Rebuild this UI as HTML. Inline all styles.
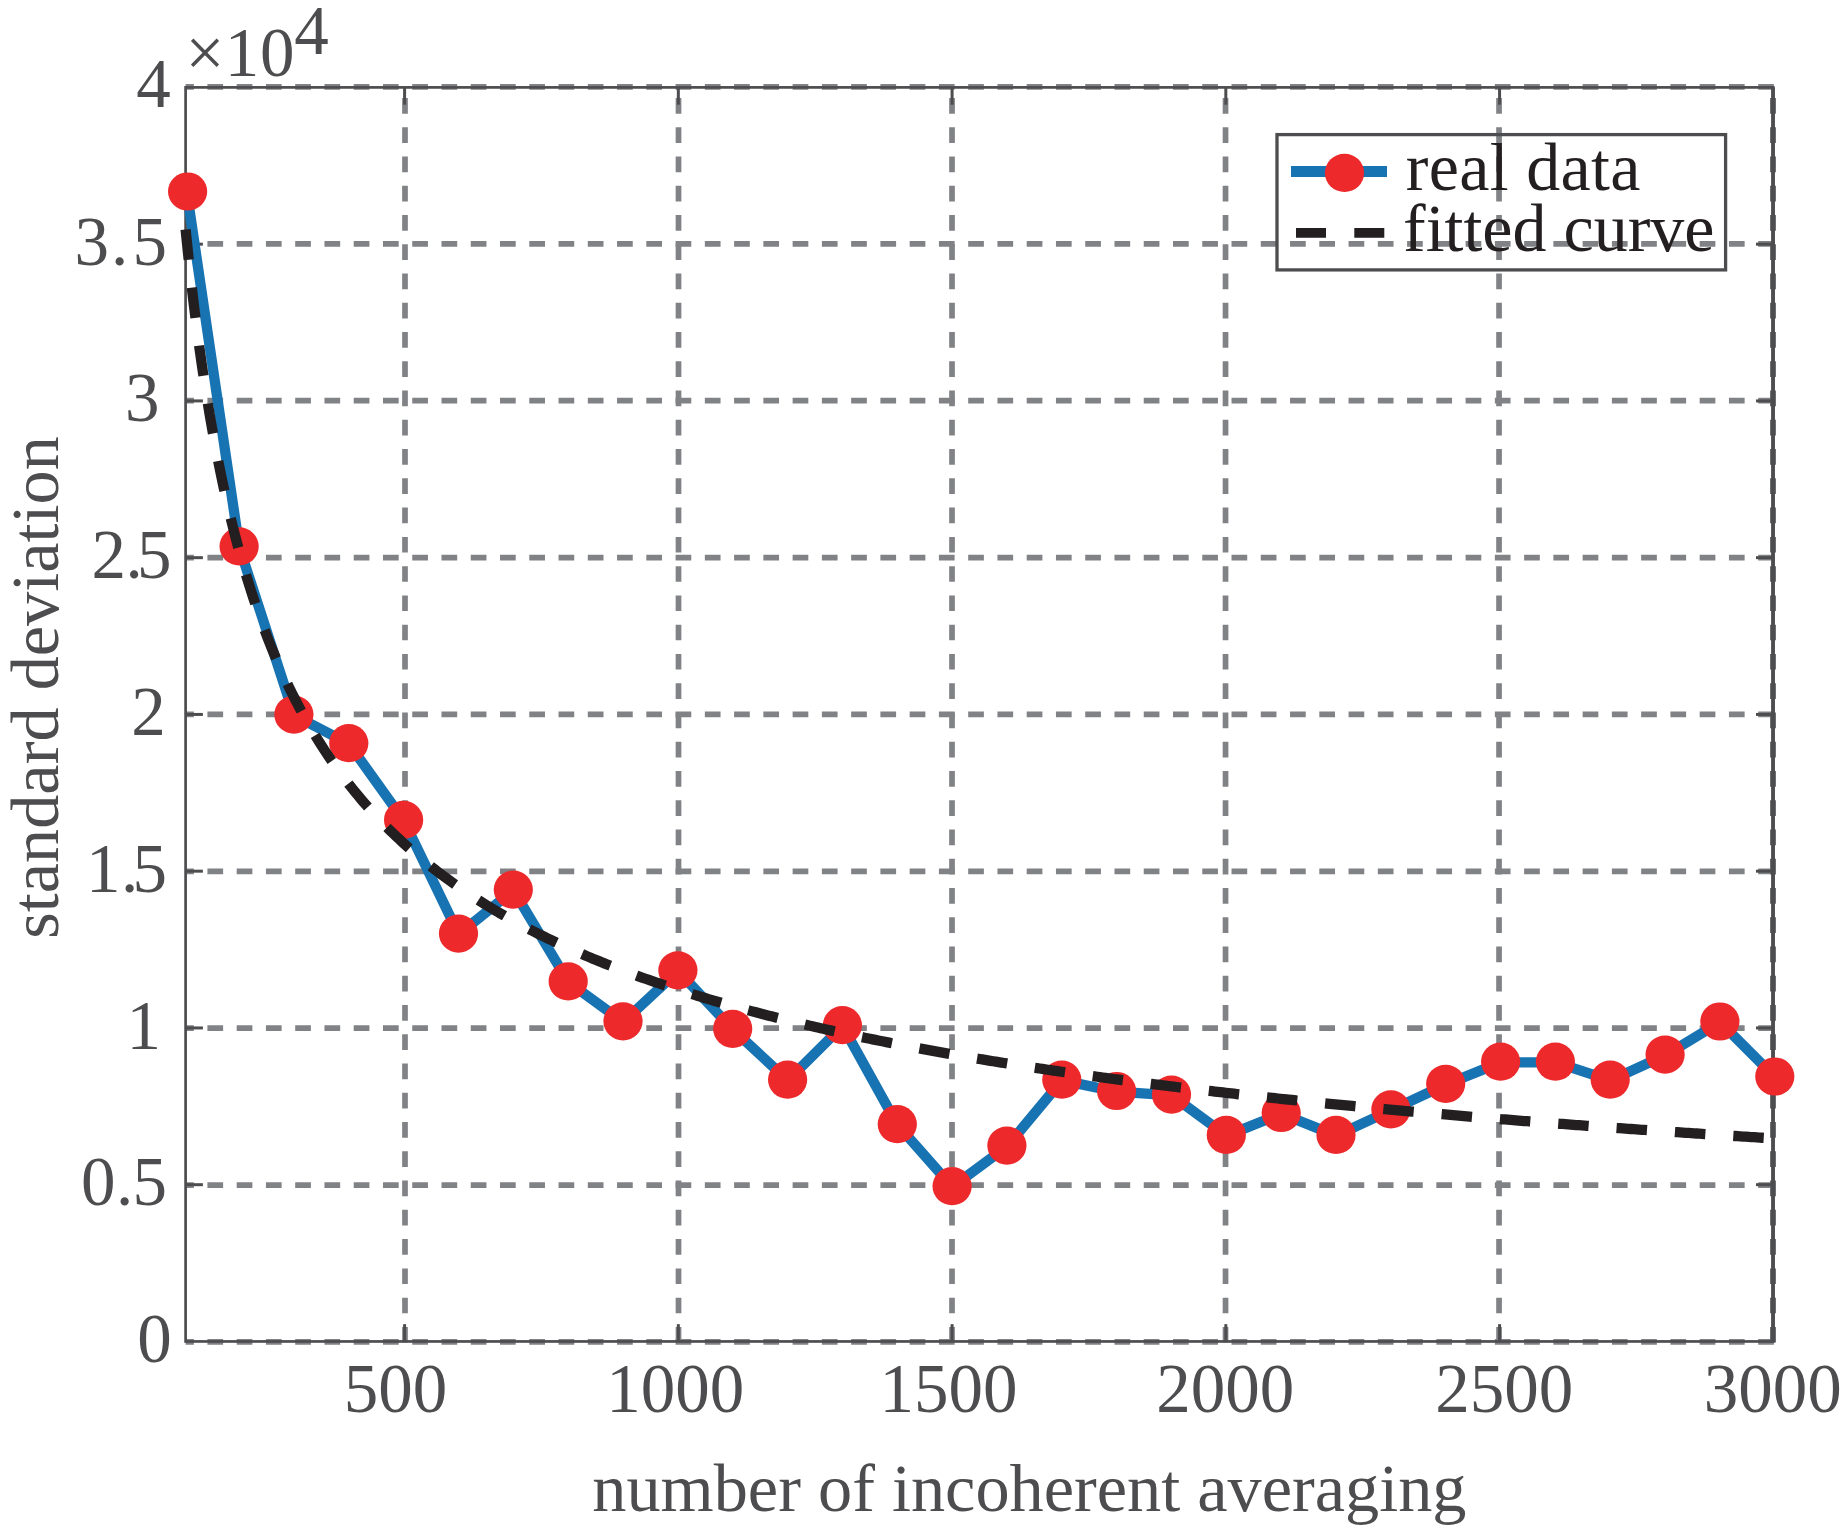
<!DOCTYPE html>
<html><head><meta charset="utf-8"><title>standard deviation vs number of incoherent averaging</title>
<style>
html,body{margin:0;padding:0;background:#fff;}
body{width:1848px;height:1540px;overflow:hidden;}
svg{display:block;}
text{font-family:"Liberation Serif","Times New Roman",serif;font-size:68.3px;fill:#4d4d4f;}
.lg{fill:#231f20;font-size:68px;}
.tk text{font-size:69px;}
</style></head><body>
<svg width="1848" height="1540" viewBox="0 0 1848 1540">
<rect width="1848" height="1540" fill="#fff"/>

<g stroke="#808285" stroke-width="5.7" stroke-dasharray="15.7 13.56" fill="none">
<line x1="405.00" y1="1342.6" x2="405.00" y2="87.40"/>
<line x1="678.51" y1="1342.6" x2="678.51" y2="87.40"/>
<line x1="952.02" y1="1342.6" x2="952.02" y2="87.40"/>
<line x1="1225.53" y1="1342.6" x2="1225.53" y2="87.40"/>
<line x1="1499.04" y1="1342.6" x2="1499.04" y2="87.40"/>
<line x1="1773.9" y1="1341.92" x2="185.60" y2="1341.92"/>
<line x1="1773.9" y1="1185.05" x2="185.60" y2="1185.05"/>
<line x1="1773.9" y1="1028.18" x2="185.60" y2="1028.18"/>
<line x1="1773.9" y1="871.31" x2="185.60" y2="871.31"/>
<line x1="1773.9" y1="714.44" x2="185.60" y2="714.44"/>
<line x1="1773.9" y1="557.57" x2="185.60" y2="557.57"/>
<line x1="1773.9" y1="400.70" x2="185.60" y2="400.70"/>
<line x1="1773.9" y1="243.83" x2="185.60" y2="243.83"/>
<line x1="1773.9" y1="86.96" x2="185.60" y2="86.96"/>
</g>
<line x1="1773.0" y1="1342.6" x2="1773.0" y2="87.40" stroke="#66676a" stroke-width="5.9" stroke-dasharray="15.7 13.56"/>
<rect x="185.60" y="87.40" width="1587.70" height="1254.05" fill="none" stroke="#4d4d4f" stroke-width="2.7"/>
<line x1="1773.0" y1="87.40" x2="1773.0" y2="1341.45" stroke="#4d4d4f" stroke-width="3.8"/>
<g stroke="#4d4d4f" stroke-width="3">
<line x1="404.59" y1="1341.45" x2="404.59" y2="1324.15"/>
<line x1="404.59" y1="87.40" x2="404.59" y2="104.70"/>
<line x1="678.33" y1="1341.45" x2="678.33" y2="1324.15"/>
<line x1="678.33" y1="87.40" x2="678.33" y2="104.70"/>
<line x1="952.08" y1="1341.45" x2="952.08" y2="1324.15"/>
<line x1="952.08" y1="87.40" x2="952.08" y2="104.70"/>
<line x1="1225.82" y1="1341.45" x2="1225.82" y2="1324.15"/>
<line x1="1225.82" y1="87.40" x2="1225.82" y2="104.70"/>
<line x1="1499.56" y1="1341.45" x2="1499.56" y2="1324.15"/>
<line x1="1499.56" y1="87.40" x2="1499.56" y2="104.70"/>
<line x1="185.60" y1="1184.69" x2="202.90" y2="1184.69"/>
<line x1="1773.30" y1="1184.69" x2="1756.00" y2="1184.69"/>
<line x1="185.60" y1="1027.94" x2="202.90" y2="1027.94"/>
<line x1="1773.30" y1="1027.94" x2="1756.00" y2="1027.94"/>
<line x1="185.60" y1="871.18" x2="202.90" y2="871.18"/>
<line x1="1773.30" y1="871.18" x2="1756.00" y2="871.18"/>
<line x1="185.60" y1="714.43" x2="202.90" y2="714.43"/>
<line x1="1773.30" y1="714.43" x2="1756.00" y2="714.43"/>
<line x1="185.60" y1="557.67" x2="202.90" y2="557.67"/>
<line x1="1773.30" y1="557.67" x2="1756.00" y2="557.67"/>
<line x1="185.60" y1="400.91" x2="202.90" y2="400.91"/>
<line x1="1773.30" y1="400.91" x2="1756.00" y2="400.91"/>
<line x1="185.60" y1="244.16" x2="202.90" y2="244.16"/>
<line x1="1773.30" y1="244.16" x2="1756.00" y2="244.16"/>
</g>
<polyline points="186.9,192.2 239.3,547.1 294.1,715.3 349.0,743.9 403.8,820.6 458.7,934.3 513.5,890.4 568.4,982.1 623.2,1022.0 678.1,971.0 732.9,1029.5 787.8,1080.4 842.6,1025.9 897.5,1124.9 952.3,1186.9 1007.1,1146.3 1062.0,1080.4 1116.8,1091.7 1171.7,1095.3 1226.5,1135.6 1281.4,1113.7 1336.2,1135.6 1391.1,1110.1 1445.9,1084.5 1500.8,1062.4 1555.6,1062.4 1610.4,1080.4 1665.3,1055.3 1720.1,1022.2 1775.0,1077.2" fill="none" stroke="#1873b3" stroke-width="10.3" stroke-linejoin="round"/>
<g fill="#ed292b">
<ellipse cx="187.6" cy="191.5" rx="19.6" ry="19.1"/>
<ellipse cx="239.1" cy="546.4" rx="19.6" ry="19.1"/>
<ellipse cx="293.9" cy="714.6" rx="19.6" ry="19.1"/>
<ellipse cx="348.8" cy="743.2" rx="19.6" ry="19.1"/>
<ellipse cx="403.6" cy="819.9" rx="19.6" ry="19.1"/>
<ellipse cx="458.5" cy="933.6" rx="19.6" ry="19.1"/>
<ellipse cx="513.3" cy="889.7" rx="19.6" ry="19.1"/>
<ellipse cx="568.2" cy="981.4" rx="19.6" ry="19.1"/>
<ellipse cx="623.0" cy="1021.3" rx="19.6" ry="19.1"/>
<ellipse cx="677.9" cy="970.3" rx="19.6" ry="19.1"/>
<ellipse cx="732.7" cy="1028.8" rx="19.6" ry="19.1"/>
<ellipse cx="787.6" cy="1079.7" rx="19.6" ry="19.1"/>
<ellipse cx="842.4" cy="1025.2" rx="19.6" ry="19.1"/>
<ellipse cx="897.3" cy="1124.2" rx="19.6" ry="19.1"/>
<ellipse cx="952.1" cy="1186.2" rx="19.6" ry="19.1"/>
<ellipse cx="1006.9" cy="1145.6" rx="19.6" ry="19.1"/>
<ellipse cx="1061.8" cy="1079.7" rx="19.6" ry="19.1"/>
<ellipse cx="1116.6" cy="1091.0" rx="19.6" ry="19.1"/>
<ellipse cx="1171.5" cy="1094.6" rx="19.6" ry="19.1"/>
<ellipse cx="1226.3" cy="1134.9" rx="19.6" ry="19.1"/>
<ellipse cx="1281.2" cy="1113.0" rx="19.6" ry="19.1"/>
<ellipse cx="1336.0" cy="1134.9" rx="19.6" ry="19.1"/>
<ellipse cx="1390.9" cy="1109.4" rx="19.6" ry="19.1"/>
<ellipse cx="1445.7" cy="1083.8" rx="19.6" ry="19.1"/>
<ellipse cx="1500.6" cy="1061.7" rx="19.6" ry="19.1"/>
<ellipse cx="1555.4" cy="1061.7" rx="19.6" ry="19.1"/>
<ellipse cx="1610.2" cy="1079.7" rx="19.6" ry="19.1"/>
<ellipse cx="1665.1" cy="1054.6" rx="19.6" ry="19.1"/>
<ellipse cx="1719.9" cy="1021.5" rx="19.6" ry="19.1"/>
<ellipse cx="1774.8" cy="1076.5" rx="19.6" ry="19.1"/>
</g>
<polyline points="185.60,229.42 188.34,256.22 191.07,281.17 193.81,304.48 196.55,326.31 199.29,346.82 202.02,366.14 204.76,384.37 207.50,401.61 210.24,417.96 212.97,433.48 215.71,448.25 218.45,462.31 221.19,475.74 223.92,488.56 226.66,500.84 229.40,512.59 232.14,523.87 234.87,534.70 237.61,545.11 240.35,555.13 243.09,564.78 245.82,574.08 248.56,583.05 251.30,591.72 254.04,600.10 256.77,608.20 259.51,616.04 262.25,623.64 264.99,631.00 267.72,638.14 270.46,645.07 273.20,651.80 275.93,658.34 278.67,664.69 281.41,670.87 284.15,676.89 286.88,682.74 289.62,688.44 292.36,694.00 295.10,699.42 297.83,704.70 300.57,709.86 303.31,714.89 306.05,719.81 308.78,724.61 311.52,729.30 314.26,733.88 317.00,738.37 319.73,742.75 322.47,747.05 325.21,751.25 327.95,755.36 330.68,759.39 333.42,763.33 336.16,767.20 338.90,770.99 341.63,774.71 344.37,778.35 347.11,781.93 349.84,785.44 352.58,788.88 355.32,792.26 358.06,795.58 360.79,798.84 363.53,802.04 366.27,805.18 369.01,808.27 371.74,811.31 374.48,814.30 377.22,817.23 379.96,820.12 382.69,822.96 385.43,825.76 388.17,828.51 390.91,831.22 393.64,833.88 396.38,836.50 399.12,839.09 401.86,841.63 404.59,844.14 407.33,846.60 410.07,849.04 412.81,851.43 415.54,853.79 418.28,856.12 421.02,858.42 423.75,860.68 426.49,862.91 429.23,865.11 431.97,867.28 434.70,869.42 437.44,871.53 440.18,873.62 442.92,875.67 445.65,877.70 448.39,879.71 451.13,881.68 453.87,883.63 456.60,885.56 459.34,887.47 462.08,889.35 464.82,891.20 467.55,893.04 470.29,894.85 473.03,896.64 475.77,898.41 478.50,900.15 481.24,901.88 483.98,903.59 486.72,905.28 489.45,906.94 492.19,908.59 494.93,910.22 497.67,911.84 500.40,913.43 503.14,915.01 505.88,916.57 508.61,918.11 511.35,919.63 514.09,921.14 516.83,922.64 519.56,924.11 522.30,925.57 525.04,927.02 527.78,928.45 530.51,929.87 533.25,931.27 535.99,932.66 538.73,934.03 541.46,935.39 544.20,936.74 546.94,938.07 549.68,939.40 552.41,940.70 555.15,942.00 557.89,943.28 560.63,944.55 563.36,945.81 566.10,947.05 568.84,948.29 571.58,949.51 574.31,950.72 577.05,951.92 579.79,953.11 582.52,954.29 585.26,955.46 588.00,956.62 590.74,957.76 593.47,958.90 596.21,960.03 598.95,961.14 601.69,962.25 604.42,963.35 607.16,964.44 609.90,965.52 612.64,966.59 615.37,967.65 618.11,968.70 620.85,969.74 623.59,970.77 626.32,971.80 629.06,972.82 631.80,973.82 634.54,974.82 637.27,975.82 640.01,976.80 642.75,977.78 645.49,978.75 648.22,979.71 650.96,980.66 653.70,981.61 656.44,982.54 659.17,983.48 661.91,984.40 664.65,985.32 667.38,986.23 670.12,987.13 672.86,988.02 675.60,988.91 678.33,989.80 681.07,990.67 683.81,991.54 686.55,992.40 689.28,993.26 692.02,994.11 694.76,994.95 697.50,995.79 700.23,996.62 702.97,997.45 705.71,998.27 708.45,999.08 711.18,999.89 713.92,1000.70 716.66,1001.49 719.40,1002.28 722.13,1003.07 724.87,1003.85 727.61,1004.63 730.35,1005.40 733.08,1006.16 735.82,1006.92 738.56,1007.67 741.30,1008.42 744.03,1009.17 746.77,1009.91 749.51,1010.64 752.24,1011.37 754.98,1012.10 757.72,1012.82 760.46,1013.53 763.19,1014.24 765.93,1014.95 768.67,1015.65 771.41,1016.35 774.14,1017.04 776.88,1017.73 779.62,1018.41 782.36,1019.09 785.09,1019.76 787.83,1020.43 790.57,1021.10 793.31,1021.76 796.04,1022.42 798.78,1023.08 801.52,1023.73 804.26,1024.37 806.99,1025.02 809.73,1025.66 812.47,1026.29 815.21,1026.92 817.94,1027.55 820.68,1028.17 823.42,1028.79 826.15,1029.41 828.89,1030.02 831.63,1030.63 834.37,1031.23 837.10,1031.84 839.84,1032.43 842.58,1033.03 845.32,1033.62 848.05,1034.21 850.79,1034.79 853.53,1035.37 856.27,1035.95 859.00,1036.53 861.74,1037.10 864.48,1037.67 867.22,1038.23 869.95,1038.79 872.69,1039.35 875.43,1039.91 878.17,1040.46 880.90,1041.01 883.64,1041.56 886.38,1042.10 889.12,1042.64 891.85,1043.18 894.59,1043.72 897.33,1044.25 900.07,1044.78 902.80,1045.30 905.54,1045.83 908.28,1046.35 911.01,1046.87 913.75,1047.38 916.49,1047.89 919.23,1048.40 921.96,1048.91 924.70,1049.42 927.44,1049.92 930.18,1050.42 932.91,1050.92 935.65,1051.41 938.39,1051.90 941.13,1052.39 943.86,1052.88 946.60,1053.36 949.34,1053.85 952.08,1054.33 954.81,1054.80 957.55,1055.28 960.29,1055.75 963.03,1056.22 965.76,1056.69 968.50,1057.15 971.24,1057.62 973.98,1058.08 976.71,1058.54 979.45,1058.99 982.19,1059.45 984.92,1059.90 987.66,1060.35 990.40,1060.80 993.14,1061.25 995.87,1061.69 998.61,1062.13 1001.35,1062.57 1004.09,1063.01 1006.82,1063.44 1009.56,1063.88 1012.30,1064.31 1015.04,1064.74 1017.77,1065.16 1020.51,1065.59 1023.25,1066.01 1025.99,1066.43 1028.72,1066.85 1031.46,1067.27 1034.20,1067.69 1036.94,1068.10 1039.67,1068.51 1042.41,1068.92 1045.15,1069.33 1047.89,1069.74 1050.62,1070.14 1053.36,1070.55 1056.10,1070.95 1058.84,1071.35 1061.57,1071.74 1064.31,1072.14 1067.05,1072.53 1069.78,1072.93 1072.52,1073.32 1075.26,1073.70 1078.00,1074.09 1080.73,1074.48 1083.47,1074.86 1086.21,1075.24 1088.95,1075.62 1091.68,1076.00 1094.42,1076.38 1097.16,1076.76 1099.90,1077.13 1102.63,1077.50 1105.37,1077.87 1108.11,1078.24 1110.85,1078.61 1113.58,1078.98 1116.32,1079.34 1119.06,1079.71 1121.80,1080.07 1124.53,1080.43 1127.27,1080.79 1130.01,1081.14 1132.75,1081.50 1135.48,1081.85 1138.22,1082.21 1140.96,1082.56 1143.69,1082.91 1146.43,1083.26 1149.17,1083.60 1151.91,1083.95 1154.64,1084.29 1157.38,1084.64 1160.12,1084.98 1162.86,1085.32 1165.59,1085.66 1168.33,1086.00 1171.07,1086.33 1173.81,1086.67 1176.54,1087.00 1179.28,1087.33 1182.02,1087.67 1184.76,1088.00 1187.49,1088.32 1190.23,1088.65 1192.97,1088.98 1195.71,1089.30 1198.44,1089.63 1201.18,1089.95 1203.92,1090.27 1206.66,1090.59 1209.39,1090.91 1212.13,1091.22 1214.87,1091.54 1217.61,1091.86 1220.34,1092.17 1223.08,1092.48 1225.82,1092.79 1228.55,1093.10 1231.29,1093.41 1234.03,1093.72 1236.77,1094.03 1239.50,1094.33 1242.24,1094.64 1244.98,1094.94 1247.72,1095.24 1250.45,1095.54 1253.19,1095.84 1255.93,1096.14 1258.67,1096.44 1261.40,1096.74 1264.14,1097.03 1266.88,1097.33 1269.62,1097.62 1272.35,1097.91 1275.09,1098.21 1277.83,1098.50 1280.57,1098.79 1283.30,1099.07 1286.04,1099.36 1288.78,1099.65 1291.52,1099.93 1294.25,1100.22 1296.99,1100.50 1299.73,1100.78 1302.46,1101.06 1305.20,1101.34 1307.94,1101.62 1310.68,1101.90 1313.41,1102.18 1316.15,1102.46 1318.89,1102.73 1321.63,1103.01 1324.36,1103.28 1327.10,1103.55 1329.84,1103.82 1332.58,1104.09 1335.31,1104.36 1338.05,1104.63 1340.79,1104.90 1343.53,1105.17 1346.26,1105.44 1349.00,1105.70 1351.74,1105.96 1354.48,1106.23 1357.21,1106.49 1359.95,1106.75 1362.69,1107.01 1365.43,1107.27 1368.16,1107.53 1370.90,1107.79 1373.64,1108.05 1376.38,1108.31 1379.11,1108.56 1381.85,1108.82 1384.59,1109.07 1387.32,1109.32 1390.06,1109.58 1392.80,1109.83 1395.54,1110.08 1398.27,1110.33 1401.01,1110.58 1403.75,1110.83 1406.49,1111.07 1409.22,1111.32 1411.96,1111.57 1414.70,1111.81 1417.44,1112.06 1420.17,1112.30 1422.91,1112.54 1425.65,1112.78 1428.39,1113.03 1431.12,1113.27 1433.86,1113.51 1436.60,1113.75 1439.34,1113.98 1442.07,1114.22 1444.81,1114.46 1447.55,1114.69 1450.29,1114.93 1453.02,1115.16 1455.76,1115.40 1458.50,1115.63 1461.23,1115.86 1463.97,1116.10 1466.71,1116.33 1469.45,1116.56 1472.18,1116.79 1474.92,1117.02 1477.66,1117.24 1480.40,1117.47 1483.13,1117.70 1485.87,1117.92 1488.61,1118.15 1491.35,1118.37 1494.08,1118.60 1496.82,1118.82 1499.56,1119.04 1502.30,1119.27 1505.03,1119.49 1507.77,1119.71 1510.51,1119.93 1513.25,1120.15 1515.98,1120.37 1518.72,1120.58 1521.46,1120.80 1524.20,1121.02 1526.93,1121.24 1529.67,1121.45 1532.41,1121.67 1535.14,1121.88 1537.88,1122.09 1540.62,1122.31 1543.36,1122.52 1546.09,1122.73 1548.83,1122.94 1551.57,1123.15 1554.31,1123.36 1557.04,1123.57 1559.78,1123.78 1562.52,1123.99 1565.26,1124.20 1567.99,1124.40 1570.73,1124.61 1573.47,1124.82 1576.21,1125.02 1578.94,1125.23 1581.68,1125.43 1584.42,1125.63 1587.16,1125.84 1589.89,1126.04 1592.63,1126.24 1595.37,1126.44 1598.11,1126.64 1600.84,1126.84 1603.58,1127.04 1606.32,1127.24 1609.06,1127.44 1611.79,1127.64 1614.53,1127.84 1617.27,1128.03 1620.00,1128.23 1622.74,1128.42 1625.48,1128.62 1628.22,1128.81 1630.95,1129.01 1633.69,1129.20 1636.43,1129.39 1639.17,1129.59 1641.90,1129.78 1644.64,1129.97 1647.38,1130.16 1650.12,1130.35 1652.85,1130.54 1655.59,1130.73 1658.33,1130.92 1661.07,1131.11 1663.80,1131.30 1666.54,1131.48 1669.28,1131.67 1672.02,1131.86 1674.75,1132.04 1677.49,1132.23 1680.23,1132.41 1682.97,1132.60 1685.70,1132.78 1688.44,1132.96 1691.18,1133.15 1693.91,1133.33 1696.65,1133.51 1699.39,1133.69 1702.13,1133.87 1704.86,1134.06 1707.60,1134.24 1710.34,1134.42 1713.08,1134.59 1715.81,1134.77 1718.55,1134.95 1721.29,1135.13 1724.03,1135.31 1726.76,1135.48 1729.50,1135.66 1732.24,1135.84 1734.98,1136.01 1737.71,1136.19 1740.45,1136.36 1743.19,1136.54 1745.93,1136.71 1748.66,1136.88 1751.40,1137.06 1754.14,1137.23 1756.88,1137.40 1759.61,1137.57 1762.35,1137.74 1765.09,1137.91 1767.83,1138.08 1770.56,1138.25 1773.30,1138.42" fill="none" stroke="#231f20" stroke-width="10.3" stroke-dasharray="30.5 28.0"/>
<rect x="1277.0" y="134.6" width="448.6" height="135.3" fill="none" stroke="#4d4d4f" stroke-width="3.3"/>
<line x1="1291" y1="171.5" x2="1387" y2="171.5" stroke="#1873b3" stroke-width="11"/>
<ellipse cx="1344.5" cy="172.9" rx="19.6" ry="19.15" fill="#ed292b"/>
<line x1="1296" y1="232.95" x2="1385" y2="232.95" stroke="#231f20" stroke-width="9.8" stroke-dasharray="30 28.3"/>
<text class="lg" font-size="68" letter-spacing="0.3" x="1405.8" y="189.8">real data</text>
<text class="lg" font-size="68" x="1403" y="250.7">fitted curve</text>
<g class="tk">
<text x="395.6" y="1412.0" text-anchor="middle">500</text>
<text x="675.2" y="1412.0" text-anchor="middle">1000</text>
<text x="948.5" y="1412.0" text-anchor="middle">1500</text>
<text x="1225.2" y="1412.0" text-anchor="middle">2000</text>
<text x="1504.2" y="1412.0" text-anchor="middle">2500</text>
<text x="1772.8" y="1412.0" text-anchor="middle">3000</text>
<text x="137.2" y="1362.3">0</text>
<text x="81.0 116.1 132.6" y="1205.4">0.5</text>
<text x="126.4" y="1048.6">1</text>
<text x="86.1 121.0 132.6" y="891.8">1.5</text>
<text x="131.2" y="735.3">2</text>
<text x="91.6 125.6 137.0" y="578.4">2.5</text>
<text x="125.0" y="421.4">3</text>
<text x="74.5 110.9 132.6" y="264.5">3.5</text>
<text x="136.2" y="106.9">4</text>
<text x="185.6 224.8 260.0" y="75.8">×10<tspan x="294.3" dy="-21.8">4</tspan></text>
</g>
<text x="592.3" y="1510.5">number of incoherent averaging</text>
<text transform="translate(57.8,938.8) rotate(-90)" x="0" y="0">standard deviation</text>
</svg></body></html>
